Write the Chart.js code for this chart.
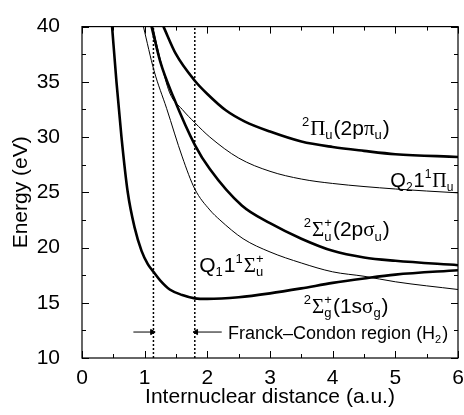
<!DOCTYPE html>
<html lang="en">
<head>
  <meta charset="UTF-8" />
  <title>H2+ potential energy curves</title>
  <style>
    html, body { margin: 0; padding: 0; background: #fff; }
    #wrap { width: 464px; height: 415px; }
  </style>
</head>
<body>
  <div id="wrap"><canvas id="chart" width="464" height="415"></canvas></div>

  <script src="https://cdn.jsdelivr.net/npm/chart.js"></script>
  <script>
    // values: R in a.u., E in eV
    const sgR = [0.48, 0.55, 0.63, 0.73, 0.84, 0.95, 1.05, 1.14, 1.25, 1.4, 1.6, 1.8, 2.0, 2.5, 3.0, 3.5, 4.0, 4.5, 5.0, 6.0];
    const sgE = [40, 35, 30, 25, 21.8, 19.7, 18.5, 17.8, 17.0, 16.2, 15.7, 15.4, 15.35, 15.5, 15.85, 16.3, 16.8, 17.2, 17.55, 17.95];

    const suR = [1.11, 1.25, 1.46, 1.8, 2.04, 2.55, 3.0, 3.5, 4.0, 4.5, 5.0, 6.0];
    const suE = [40, 36.8, 33.6, 29.3, 27.1, 23.8, 22.2, 20.8, 19.7, 19.1, 18.8, 18.4];

    const piR = [1.30, 1.5, 1.8, 2.0, 2.3, 2.6, 3.0, 3.5, 4.0, 4.5, 5.0, 6.0];
    const piE = [40, 37.5, 35.1, 33.9, 32.4, 31.4, 30.5, 29.6, 29.1, 28.75, 28.45, 28.2];

    const q1R = [0.98, 1.15, 1.35, 1.6, 1.8, 2.04, 2.2, 2.57, 3.0, 3.5, 4.0, 4.5, 5.0, 6.0];
    const q1E = [40, 36, 32.6, 28.2, 25.3, 23.4, 22.5, 20.8, 19.6, 18.6, 17.8, 17.4, 16.9, 16.2];

    const q2R = [1.13, 1.25, 1.4, 1.6, 1.8, 2.04, 2.5, 3.0, 3.5, 4.0, 5.0, 6.0];
    const q2E = [40, 37.0, 34.0, 32.5, 31.3, 30.0, 28.1, 26.9, 26.2, 25.8, 25.3, 24.95];

    // Franck-Condon region of H2
    const fcR = [1.14, 1.8];
    const arrowE = 12.35;
    const arrowLeftR = [0.82, 1.12];
    const arrowRightR = [1.82, 2.23];

    const xTicks = [0, 1, 2, 3, 4, 5, 6];
    const yTicks = [10, 15, 20, 25, 30, 35, 40];

    const SANS = '"Liberation Sans", Arial, Helvetica, sans-serif';
    const SERIF = '"Liberation Serif", "Times New Roman", serif';

    const pts = (xs, ys) => xs.map((v, i) => ({ x: v, y: ys[i] }));

    const curve = (data, width) => ({
      data: data,
      borderColor: '#000',
      borderWidth: width,
      pointRadius: 0,
      fill: false,
      cubicInterpolationMode: 'monotone'
    });

    const datasets = [
      curve(pts(sgR, sgE), 2.6),
      curve(pts(suR, suE), 2.6),
      curve(pts(piR, piE), 2.6),
      curve(pts(q1R, q1E), 1),
      curve(pts(q2R, q2E), 1),
      ...fcR.map(r => ({
        data: [{ x: r, y: 10 }, { x: r, y: 40 }],
        borderColor: '#000', borderWidth: 1.5, borderDash: [2, 2],
        pointRadius: 0, fill: false
      })),
      {
        data: arrowLeftR.map(r => ({ x: r, y: arrowE })),
        borderColor: '#000', borderWidth: 1, fill: false,
        pointRadius: [0, 3], pointStyle: 'triangle', rotation: 90,
        pointBackgroundColor: '#000', pointBorderColor: '#000'
      },
      {
        data: arrowRightR.map(r => ({ x: r, y: arrowE })),
        borderColor: '#000', borderWidth: 1, fill: false,
        pointRadius: [3, 0], pointStyle: 'triangle', rotation: -90,
        pointBackgroundColor: '#000', pointBorderColor: '#000'
      }
    ];

    // curve labels, anchored at left baseline in data coordinates
    const labels = [
      { x: 3.51, y: 30.2, size: 21, parts: [{ sup: '2' }, { g: 'Π' }, { sub: 'u' }, { t: '(2p' }, { g: 'π' }, { sub: 'u' }, { t: ')' }] },
      { x: 4.92, y: 25.5, size: 20, parts: [{ t: 'Q' }, { sub: '2' }, { t: '1' }, { sup: '1' }, { g: 'Π' }, { sub: 'u' }] },
      { x: 3.54, y: 21.05, size: 21, parts: [{ sup: '2' }, { g: 'Σ' }, { sup: '+', sub: 'u' }, { t: '(2p' }, { g: 'σ' }, { sub: 'u' }, { t: ')' }] },
      { x: 1.87, y: 17.8, size: 21, parts: [{ t: 'Q' }, { sub: '1' }, { t: '1' }, { sup: '1' }, { g: 'Σ' }, { sup: '+', sub: 'u' }] },
      { x: 3.54, y: 14.1, size: 21, parts: [{ sup: '2' }, { g: 'Σ' }, { sup: '+', sub: 'g' }, { t: '(1s' }, { g: 'σ' }, { sub: 'g' }, { t: ')' }] },
      { x: 2.33, y: 11.7, size: 18, parts: [{ t: 'Franck–Condon region (H' }, { sub: '2' }, { t: ')' }] }
    ];

    const drawRich = (ctx, x, y, parts, size) => {
      const small = Math.round(size * 0.62);
      let cx = x;
      parts.forEach(p => {
        if (p.t || p.g) {
          ctx.font = size + 'px ' + (p.g ? SERIF : SANS);
          const s = p.t || p.g;
          ctx.fillText(s, cx, y);
          cx += ctx.measureText(s).width;
        } else {
          ctx.font = small + 'px ' + SANS;
          let w = 0;
          if (p.sup) {
            ctx.fillText(p.sup, cx, y - size * 0.42);
            w = Math.max(w, ctx.measureText(p.sup).width);
          }
          if (p.sub) {
            ctx.fillText(p.sub, cx, y + size * 0.22);
            w = Math.max(w, ctx.measureText(p.sub).width);
          }
          cx += w + 1;
        }
      });
    };

    const frameAndLabels = {
      id: 'frameAndLabels',
      afterDraw(chart) {
        const { ctx, chartArea: a, scales: { x, y } } = chart;
        ctx.save();
        ctx.strokeStyle = '#000';
        ctx.lineWidth = 1.2;
        ctx.strokeRect(a.left, a.top, a.right - a.left, a.bottom - a.top);

        ctx.lineWidth = 1;
        ctx.beginPath();
        for (let v = 0; v <= 6; v += 0.5) {
          const px = Math.round(x.getPixelForValue(v)) + 0.5;
          const len = v % 1 === 0 ? 7 : 4;
          ctx.moveTo(px, a.bottom); ctx.lineTo(px, a.bottom - len);
          ctx.moveTo(px, a.top); ctx.lineTo(px, a.top + len);
        }
        for (let v = 10; v <= 40; v += 2.5) {
          const py = Math.round(y.getPixelForValue(v)) + 0.5;
          const len = v % 5 === 0 ? 7 : 4;
          ctx.moveTo(a.left, py); ctx.lineTo(a.left + len, py);
          ctx.moveTo(a.right, py); ctx.lineTo(a.right - len, py);
        }
        ctx.stroke();

        ctx.fillStyle = '#000';
        ctx.textBaseline = 'alphabetic';
        ctx.textAlign = 'left';
        labels.forEach(l => drawRich(ctx, x.getPixelForValue(l.x), y.getPixelForValue(l.y), l.parts, l.size));
        ctx.restore();
      }
    };

    new Chart(document.getElementById('chart'), {
      type: 'line',
      data: { datasets: datasets },
      options: {
        responsive: false,
        animation: false,
        devicePixelRatio: 1,
        layout: { padding: { top: 19, right: 6, left: 0, bottom: 0 } },
        plugins: { legend: { display: false }, tooltip: { enabled: false } },
        scales: {
          x: {
            type: 'linear', min: 0, max: 6,
            afterBuildTicks: s => { s.ticks = xTicks.map(v => ({ value: v })); },
            afterFit: s => { s.height = 57; },
            grid: { display: false },
            border: { display: false },
            ticks: { color: '#000', padding: 0, font: { family: SANS, size: 21 } },
            title: { display: true, text: 'Internuclear distance (a.u.)', color: '#000', font: { family: SANS, size: 21 }, padding: { top: 0, bottom: 5 } }
          },
          y: {
            type: 'linear', min: 10, max: 40,
            afterBuildTicks: s => { s.ticks = yTicks.map(v => ({ value: v })); },
            afterFit: s => { s.width = 82; },
            grid: { display: false },
            border: { display: false },
            ticks: { color: '#000', padding: 14, font: { family: SANS, size: 21 } },
            title: { display: true, text: 'Energy (eV)', color: '#000', font: { family: SANS, size: 21 }, padding: { top: 9, bottom: 0 } }
          }
        }
      },
      plugins: [frameAndLabels]
    });
  </script>
</body>
</html>
